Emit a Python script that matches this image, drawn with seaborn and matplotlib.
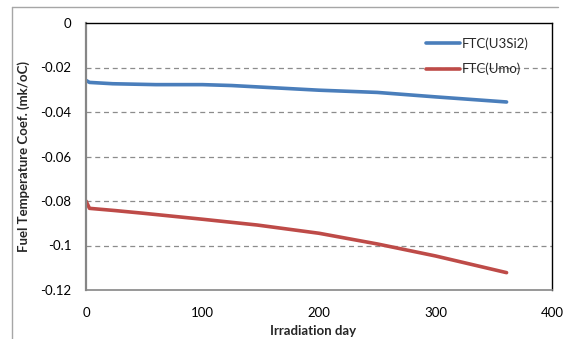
import matplotlib
matplotlib.use("Agg")
import matplotlib.pyplot as plt
import seaborn as sns
import pandas as pd

# Values
days_u3si2 = [0, 3, 23, 60, 100, 125, 150, 200, 250, 300, 361]
ftc_u3si2 = [-0.0258, -0.0267, -0.0273, -0.0277, -0.0277, -0.0281, -0.0288, -0.0302, -0.0312, -0.0332, -0.0355]

days_umo = [0, 3, 25, 49, 100, 147, 200, 250, 300, 361]
ftc_umo = [-0.0800, -0.0833, -0.0843, -0.0855, -0.0882, -0.0908, -0.0945, -0.0993, -0.1047, -0.1122]

series_names = ["FTC(U3Si2)", "FTC(Umo)"]
colors = ["#4a7ebb", "#be4b48"]

df = pd.concat([
    pd.DataFrame({"day": days_u3si2, "ftc": ftc_u3si2, "series": series_names[0]}),
    pd.DataFrame({"day": days_umo, "ftc": ftc_umo, "series": series_names[1]}),
])

sns.set_style("white")
plt.rcParams["font.family"] = ["Lato", "DejaVu Sans"]

fig = plt.figure(figsize=(5.68, 3.39), dpi=100)
ax = fig.add_axes([86 / 568, 1 - 290 / 339, (552 - 86) / 568, (290 - 23) / 339])

sns.lineplot(data=df, x="day", y="ftc", hue="series", palette=colors,
             linewidth=2.6, ax=ax, legend=False, sort=False)

ax.set_xlim(0, 400)
ax.set_ylim(-0.12, 0)
ax.set_xticks([0, 100, 200, 300, 400])
ax.set_yticks([0, -0.02, -0.04, -0.06, -0.08, -0.1, -0.12])
ax.set_yticklabels(["0", "-0.02", "-0.04", "-0.06", "-0.08", "-0.1", "-0.12"])
for y in [-0.02, -0.04, -0.06, -0.08, -0.1]:
    ax.axhline(y, color="#8c8c8c", linestyle=(0, (4, 3)), linewidth=0.9, zorder=0)

ax.tick_params(axis="both", labelsize=9.5, colors="#000000", direction="inout",
               length=5, width=0.8, pad=8)
ax.tick_params(axis="x", pad=10)
for t in ax.get_xticklines() + ax.get_yticklines():
    t.set_color("#868686")

ax.spines["left"].set_color("#868686")
ax.spines["bottom"].set_color("#868686")
ax.spines["left"].set_linewidth(1.6)
ax.spines["bottom"].set_linewidth(1.2)
ax.spines["top"].set_color("#000000")
ax.spines["right"].set_color("#000000")
ax.spines["top"].set_linewidth(1.0)
ax.spines["right"].set_linewidth(1.0)

ax.set_xlabel("Irradiation day", fontsize=9.5, fontweight="bold")
ax.set_ylabel("Fuel Temperature Coef. (mk/oC)", fontsize=9.5, fontweight="bold")
ax.xaxis.set_label_coords((313 - 86) / (552 - 86), -(325 - 290) / (290 - 23))
ax.yaxis.set_label_coords(-(86 - 30) / (552 - 86), 0.5)

handles = ax.get_lines()[:2]
leg = ax.legend(handles, series_names, loc="upper right", bbox_to_anchor=(0.975, 0.99),
                frameon=False, fontsize=9.5, handlelength=2.6, handletextpad=0.1,
                labelspacing=0.95)

# Outer chart frame (top and left edges)
fig.add_artist(plt.Line2D([12 / 568, 558 / 568], [1 - 7 / 339, 1 - 7 / 339],
                          color="#a6a6a6", linewidth=1.0))
fig.add_artist(plt.Line2D([12 / 568, 12 / 568], [0, 1 - 7 / 339],
                          color="#a6a6a6", linewidth=1.0))

fig.savefig("out.png", dpi=100)
